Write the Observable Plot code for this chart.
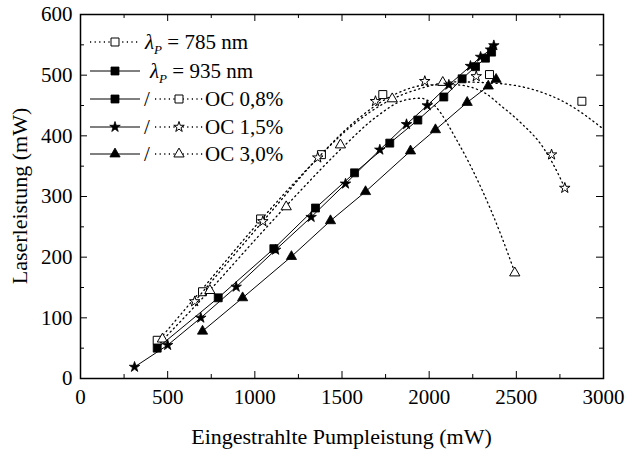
<!DOCTYPE html>
<html><head><meta charset="utf-8">
<script src="https://cdn.jsdelivr.net/npm/d3@7"></script>
<script src="https://cdn.jsdelivr.net/npm/@observablehq/plot@0.6"></script>
<style>body{margin:0;background:#fff;}</style>
</head><body><div id="chart"></div>
<script>
// Axis ticks
const xMajor = [0, 500, 1000, 1500, 2000, 2500, 3000];
const xMinor = [250, 750, 1250, 1750, 2250, 2750];
const yMajor = [0, 100, 200, 300, 400, 500, 600];
const yMinor = [50, 150, 250, 350, 450, 550];

// 935 nm pump (filled symbols, solid lines): [pump mW, laser mW]
const p935_oc08 = [[440,50],[790,133],[1109,214],[1348,281],[1572,339],[1774,388],[1935,426],[2084,464],[2189,494],[2266,514],[2323,528],[2358,538]];
const p935_oc15 = [[310,19],[500,55],[690,100],[893,151],[1119,212],[1323,266],[1520,321],[1717,377],[1870,419],[1989,450],[2113,484],[2237,515],[2295,530],[2352,542],[2371,549]];
const p935_oc30 = [[700,78],[930,133],[1210,201],[1434,260],[1635,308],[1893,375],[2036,410],[2218,455],[2339,482],[2384,493]];

// 785 nm pump (open symbols): measured points
const p785_oc08 = [[440,63],[700,143],[1033,263],[1382,369],[1734,468],[2346,501],[2876,457]];
const p785_oc15 = [[655,127],[1046,259],[1361,364],[1692,457],[1975,490],[2270,498],[2702,369],[2778,314]];
const p785_oc30 = [[470,65],[742,145],[1180,283],[1491,385],[1788,461],[2078,488],[2491,174]];

// 785 nm pump: dotted fit curves
const fit785_oc08 = [[440,60],[700,148],[1000,250],[1300,345],[1550,415],[1750,455],[1950,478],[2150,489],[2410,486],[2600,476],[2792,453],[3000,411]];
const fit785_oc15 = [[640,122],[900,210],[1100,277],[1350,360],[1600,430],[1800,468],[2000,484],[2150,484],[2323,470],[2410,450],[2524,422],[2658,379],[2754,329],[2778,314]];
const fit785_oc30 = [[460,60],[750,148],[1000,228],[1250,306],[1500,380],[1700,432],[1850,458],[1950,462],[2030,450],[2160,392],[2300,313],[2410,238],[2491,175]];

// Legend entries
const legendRows = [
  {kind: "785", label: " = 785 nm"},
  {kind: "935", label: " = 935 nm"},
  {kind: "oc", symbol: "square", label: "OC 0,8%"},
  {kind: "oc", symbol: "star", label: "OC 1,5%"},
  {kind: "oc", symbol: "triangle", label: "OC 3,0%"}
];

const W = 630, H = 449;
const mL = 80, mR = 27, mT = 14, mB = 71;
const fw = W - mL - mR, fh = H - mT - mB;
const FONT = "'Liberation Serif', 'Times New Roman', 'DejaVu Serif', serif";
const R = {square: 4.5, star: 3.3, triangle: 3.8};
const dotted = "1.2,3.4";

const X = d => d[0], Y = d => d[1];

function solid(data, sym) {
  return [
    Plot.line(data, {x: X, y: Y, stroke: "black", strokeWidth: 1}),
    Plot.dot(data, {x: X, y: Y, symbol: sym, r: R[sym], fill: "black", stroke: "black", strokeWidth: 0.8})
  ];
}
function open(pts, fit, sym) {
  return [
    Plot.line(fit, {x: X, y: Y, curve: "monotone-x", stroke: "black", strokeWidth: 1.3, strokeDasharray: dotted}),
    Plot.dot(pts, {x: X, y: Y, symbol: sym, r: R[sym], fill: "white", stroke: "black", strokeWidth: 1})
  ];
}

function legendAndLabels() {
  const g = d3.create("svg:g")
    .attr("font-family", FONT).attr("fill", "black").attr("text-anchor", "start");
  const rowsY = [42, 71, 99, 127, 154];
  const symArea = s => Math.PI * R[s] * R[s];
  const symType = {square: d3.symbolSquare, star: d3.symbolStar, triangle: d3.symbolTriangle};
  const drawSym = (x, y, s, filled) => g.append("path")
    .attr("d", d3.symbol().type(symType[s]).size(symArea(s))())
    .attr("transform", `translate(${x},${y})`)
    .attr("fill", filled ? "black" : "white").attr("stroke", "black").attr("stroke-width", filled ? 0.8 : 1);
  const seg = (x1, x2, y, dash) => {
    const l = g.append("line").attr("x1", x1).attr("x2", x2).attr("y1", y).attr("y2", y)
      .attr("stroke", "black").attr("stroke-width", dash ? 1.3 : 1);
    if (dash) l.attr("stroke-dasharray", dotted);
  };
  const lambdaText = (x, y, rest) => {
    const t = g.append("text").attr("x", x).attr("y", y + 7).attr("font-size", 21);
    t.append("tspan").attr("font-style", "italic").text("λ");
    t.append("tspan").attr("font-style", "italic").attr("font-size", 13).attr("dy", 5).text("P");
    t.append("tspan").attr("dy", -5).text(rest);
  };
  legendRows.forEach((r, i) => {
    const y = rowsY[i];
    if (r.kind === "785") {
      seg(90, 140, y, true);
      drawSym(115, y, "square", false);
      lambdaText(145, y, r.label);
    } else if (r.kind === "935") {
      seg(90, 140, y, false);
      drawSym(115, y, "square", true);
      lambdaText(150, y, r.label);
    } else {
      seg(90, 140, y, false);
      drawSym(115, y, r.symbol, true);
      g.append("text").attr("x", 147).attr("y", y + 7).attr("font-size", 21).attr("text-anchor", "middle").text("/");
      seg(155, 203, y, true);
      drawSym(179, y, r.symbol, false);
      g.append("text").attr("x", 205).attr("y", y + 7).attr("font-size", 21).text(r.label);
    }
  });
  // axis titles
  g.append("text").attr("x", mL + fw / 2).attr("y", 444).attr("font-size", 22)
    .attr("text-anchor", "middle").text("Eingestrahlte Pumpleistung (mW)");
  g.append("text").attr("transform", `translate(27,${mT + fh / 2}) rotate(-90)`).attr("font-size", 22)
    .attr("text-anchor", "middle").text("Laserleistung (mW)");
  return g.node();
}

const chart = Plot.plot({
  width: W, height: H,
  marginLeft: mL, marginRight: mR, marginTop: mT, marginBottom: mB,
  style: {fontFamily: FONT, fontSize: "21px", background: "white", color: "black", overflow: "visible"},
  x: {domain: [0, 3000], ticks: xMajor, tickFormat: d => String(d), tickSize: 0, tickPadding: 11, label: null},
  y: {domain: [0, 600], ticks: yMajor, tickFormat: d => String(d), tickSize: 0, tickPadding: 8, label: null},
  marks: [
    // inward ticks on all four sides
    Plot.tickX(xMajor, {x: d => d, insetTop: fh - 7, stroke: "black"}),
    Plot.tickX(xMinor, {x: d => d, insetTop: fh - 4, stroke: "black"}),
    Plot.tickX(xMajor, {x: d => d, insetBottom: fh - 7, stroke: "black"}),
    Plot.tickX(xMinor, {x: d => d, insetBottom: fh - 4, stroke: "black"}),
    Plot.tickY(yMajor, {y: d => d, insetRight: fw - 7, stroke: "black"}),
    Plot.tickY(yMinor, {y: d => d, insetRight: fw - 4, stroke: "black"}),
    Plot.tickY(yMajor, {y: d => d, insetLeft: fw - 7, stroke: "black"}),
    Plot.tickY(yMinor, {y: d => d, insetLeft: fw - 4, stroke: "black"}),
    ...open(p785_oc08, fit785_oc08, "square"),
    ...open(p785_oc15, fit785_oc15, "star"),
    ...open(p785_oc30, fit785_oc30, "triangle"),
    ...solid(p935_oc08, "square"),
    ...solid(p935_oc15, "star"),
    ...solid(p935_oc30, "triangle"),
    Plot.frame({stroke: "black", strokeWidth: 1.5}),
    legendAndLabels
  ]
});
document.getElementById("chart").appendChild(chart);
</script>
</body></html>
